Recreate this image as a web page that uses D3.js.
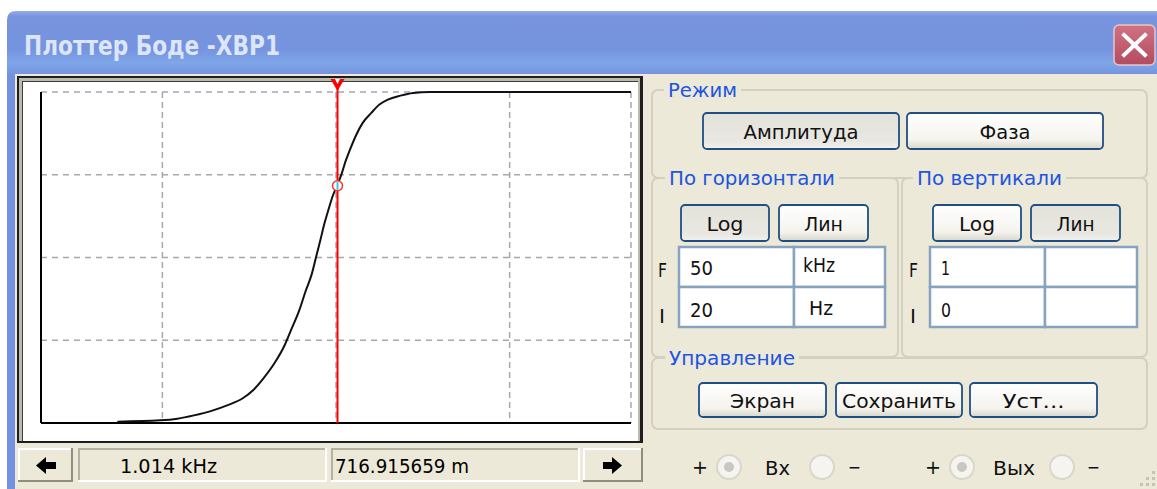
<!DOCTYPE html>
<html>
<head>
    <meta charset="utf-8">
    <title>Плоттер Боде</title>
    <script src="https://d3js.org/d3.v7.min.js"></script>
    <style>
        body { margin: 0; background: #ffffff; }
        svg { display: block; }
        text { font-family: "DejaVu Sans", Verdana, sans-serif; }
    </style>
</head>
<body>
    <svg id="win" width="1157" height="489"></svg>
    <script>
        // amplitude response (frequency in Hz, amplitude in V/V)
        const freqHz = [55, 97, 122, 152, 190, 238, 289, 333, 382, 440, 506, 550, 615, 668,
            727, 769, 813, 859, 909, 961, 1014, 1076, 1137, 1202, 1309, 1422, 1592, 1779,
            1990, 2351, 2780, 3478, 50000];
        const amplitude = [0.004, 0.008, 0.013, 0.023, 0.036, 0.054, 0.074, 0.099, 0.135, 0.179,
            0.235, 0.28, 0.341, 0.398, 0.452, 0.503, 0.553, 0.604, 0.648, 0.688, 0.717, 0.752,
            0.792, 0.825, 0.871, 0.906, 0.936, 0.962, 0.977, 0.989, 0.997, 1.0, 1.0];

        // axis settings (F / I fields)
        const freqMin = 20;        // I = 20 Hz
        const freqMax = 50000;     // F = 50 kHz
        const ampMin = 0;          // I = 0
        const ampMax = 1;          // F = 1
        const freqGrid = [100, 1000, 10000, 50000];
        const ampGrid = [0.25, 0.5, 0.75, 1];

        // cursor
        const cursorFreq = 1014;
        const cursorAmp = 0.716915659;
        const readouts = ["1.014 kHz", "716.915659 m"];

        const svg = d3.select("#win");
        const beige = "#ece9d8";
        const defs = svg.append("defs");

        // ---------- window chrome ----------
        const tg = defs.append("linearGradient").attr("id", "titleGrad").attr("x1", 0).attr("x2", 0).attr("y1", 0).attr("y2", 1);
        [[0, "#93aeea"], [0.08, "#7894df"], [0.6, "#7593de"], [0.82, "#7fa6e9"], [1, "#7694de"]]
            .forEach(s => tg.append("stop").attr("offset", s[0]).attr("stop-color", s[1]));

        svg.append("path")
            .attr("d", "M7,74 L7,20 Q7,11 16,11 L1157,11 L1157,74 Z")
            .attr("fill", "url(#titleGrad)");
        svg.append("rect").attr("x", 7).attr("y", 74).attr("width", 8).attr("height", 415).attr("fill", "#7391df");
        svg.append("rect").attr("x", 15).attr("y", 74).attr("width", 1142).attr("height", 415).attr("fill", beige);

        svg.append("text").attr("x", 24).attr("y", 55)
            .attr("font-family", "'Liberation Sans', Arial, sans-serif")
            .attr("font-weight", "bold").attr("font-size", 26)
            .attr("fill", "#dce6f7")
            .attr("textLength", 256).attr("lengthAdjust", "spacingAndGlyphs")
            .text("Плоттер Боде -XBP1");

        // close button
        const cg = defs.append("linearGradient").attr("id", "closeGrad").attr("x1", 0).attr("x2", 0).attr("y1", 0).attr("y2", 1);
        cg.append("stop").attr("offset", 0).attr("stop-color", "#cf7383");
        cg.append("stop").attr("offset", 1).attr("stop-color", "#b44b5e");
        svg.append("rect").attr("x", 1114).attr("y", 25).attr("width", 41).attr("height", 40).attr("rx", 5)
            .attr("fill", "url(#closeGrad)").attr("stroke", "#e9c3cb").attr("stroke-width", 1.5);
        svg.append("path").attr("d", "M1124,35 L1145,55 M1145,35 L1124,55")
            .attr("stroke", "#ffffff").attr("stroke-width", 4).attr("stroke-linecap", "square");

        // ---------- plot ----------
        svg.append("rect").attr("x", 17).attr("y", 76).attr("width", 626).attr("height", 367).attr("fill", "#1e1e1e");
        svg.append("rect").attr("x", 19).attr("y", 78).attr("width", 621).attr("height", 363).attr("fill", "#bcb9ad");
        svg.append("rect").attr("x", 22).attr("y", 81).attr("width", 616).attr("height", 360).attr("fill", "#3c3c3c");
        svg.append("rect").attr("x", 23).attr("y", 82).attr("width", 615).attr("height", 359).attr("fill", "#ffffff");

        const x = d3.scaleLog().domain([freqMin, freqMax]).range([41, 631]);
        const y = d3.scaleLinear().domain([ampMin, ampMax]).range([423, 92]);

        const plot = svg.append("g");
        plot.selectAll("line.vg").data(freqGrid).enter().append("line")
            .attr("x1", d => x(d)).attr("x2", d => x(d))
            .attr("y1", y(ampMax)).attr("y2", y(ampMin))
            .attr("stroke", "#a8a8a8").attr("stroke-width", 1.5).attr("stroke-dasharray", "6,4");
        plot.selectAll("line.hg").data(ampGrid).enter().append("line")
            .attr("x1", x(freqMin)).attr("x2", x(freqMax))
            .attr("y1", d => y(d)).attr("y2", d => y(d))
            .attr("stroke", "#a8a8a8").attr("stroke-width", 1.5).attr("stroke-dasharray", "6,5");

        // axes
        plot.append("line").attr("x1", x(freqMin)).attr("x2", x(freqMin)).attr("y1", y(ampMax)).attr("y2", y(ampMin))
            .attr("stroke", "#000").attr("stroke-width", 2);
        plot.append("line").attr("x1", x(freqMin)).attr("x2", x(freqMax)).attr("y1", y(ampMin)).attr("y2", y(ampMin))
            .attr("stroke", "#000").attr("stroke-width", 2);

        const pts = freqHz.map((f, i) => ({ f: f, a: amplitude[i] }));
        const line = d3.line().x(d => x(d.f)).y(d => y(d.a)).curve(d3.curveMonotoneX);
        plot.append("path").datum(pts).attr("d", line)
            .attr("fill", "none").attr("stroke", "#111").attr("stroke-width", 2);

        // cursor
        const cx = Math.round(x(cursorFreq)) + 0.5;
        plot.append("line").attr("x1", cx).attr("x2", cx).attr("y1", 84).attr("y2", y(ampMin))
            .attr("stroke", "#ff0000").attr("stroke-width", 2);
        plot.append("path").attr("d", `M${cx - 7},79 L${cx + 7},79 L${cx},91 Z`).attr("fill", "#ff0000");
        plot.append("path").attr("d", `M${cx - 2.5},79 L${cx + 2.5},79 L${cx},84 Z`).attr("fill", "#ffffff");
        plot.append("circle").attr("cx", cx).attr("cy", y(cursorAmp)).attr("r", 5)
            .attr("fill", "#ffffff").attr("stroke", "#ff3030").attr("stroke-width", 1.5);
        plot.append("line").attr("x1", cx).attr("x2", cx).attr("y1", y(cursorAmp) - 4).attr("y2", y(cursorAmp) + 4)
            .attr("stroke", "#2fd0e0").attr("stroke-width", 2);

        // ---------- bottom readout bar ----------
        function raised(x0, y0, w, h) {
            svg.append("rect").attr("x", x0).attr("y", y0).attr("width", w).attr("height", h).attr("fill", beige);
            svg.append("path").attr("d", `M${x0 + 1},${y0 + h} L${x0 + 1},${y0 + 1} L${x0 + w},${y0 + 1}`)
                .attr("fill", "none").attr("stroke", "#ffffff").attr("stroke-width", 2);
            svg.append("path").attr("d", `M${x0},${y0 + h - 1} L${x0 + w - 1},${y0 + h - 1} L${x0 + w - 1},${y0}`)
                .attr("fill", "none").attr("stroke", "#8f8d80").attr("stroke-width", 2);
        }
        function sunken(x0, y0, w, h) {
            svg.append("rect").attr("x", x0).attr("y", y0).attr("width", w).attr("height", h).attr("fill", beige);
            svg.append("path").attr("d", `M${x0 + 1},${y0 + h} L${x0 + 1},${y0 + 1} L${x0 + w},${y0 + 1}`)
                .attr("fill", "none").attr("stroke", "#b5b2a3").attr("stroke-width", 2);
            svg.append("path").attr("d", `M${x0},${y0 + h - 1} L${x0 + w - 1},${y0 + h - 1} L${x0 + w - 1},${y0}`)
                .attr("fill", "none").attr("stroke", "#ffffff").attr("stroke-width", 2);
        }
        raised(18, 448, 55, 34);
        sunken(78, 448, 249, 34);
        sunken(331, 448, 249, 34);
        raised(583, 448, 60, 34);
        svg.append("path").attr("d", "M36,465.5 L46,457 L46,462 L56,462 L56,469 L46,469 L46,474 Z").attr("fill", "#000");
        svg.append("path").attr("d", "M622,465.5 L612,457 L612,462 L603,462 L603,469 L612,469 L612,474 Z").attr("fill", "#000");

        svg.append("text").attr("x", 120).attr("y", 473).attr("font-size", 20)
            .attr("textLength", 97).attr("lengthAdjust", "spacingAndGlyphs").text(readouts[0]);
        svg.append("text").attr("x", 335).attr("y", 473).attr("font-size", 20)
            .attr("textLength", 134).attr("lengthAdjust", "spacingAndGlyphs").text(readouts[1]);

        // ---------- control panel ----------
        const blue = "#1d55e0";
        function groupBox(x0, y0, x1, y1) {
            svg.append("rect").attr("x", x0).attr("y", y0).attr("width", x1 - x0).attr("height", y1 - y0).attr("rx", 6)
                .attr("fill", "none").attr("stroke", "#d3d0bf").attr("stroke-width", 2);
        }
        function groupLabel(lx, base, w, label) {
            svg.append("rect").attr("x", lx - 4).attr("y", base - 17).attr("width", w + 8).attr("height", 20).attr("fill", beige);
            svg.append("text").attr("x", lx).attr("y", base).attr("font-size", 20).attr("fill", blue)
                .attr("textLength", w).attr("lengthAdjust", "spacingAndGlyphs").text(label);
        }
        groupBox(652, 90, 1147, 178);
        groupBox(652, 178, 898, 357);
        groupBox(902, 178, 1147, 357);
        groupBox(652, 358, 1147, 429);
        groupLabel(668, 97, 69, "Режим");
        groupLabel(669, 185, 166, "По горизонтали");
        groupLabel(917, 185, 145, "По вертикали");
        groupLabel(669, 365, 126, "Управление");

        const bg = defs.append("linearGradient").attr("id", "btnGrad").attr("x1", 0).attr("x2", 0).attr("y1", 0).attr("y2", 1);
        [[0, "#ffffff"], [0.75, "#f4f3ee"], [1, "#d9d6c8"]].forEach(s => bg.append("stop").attr("offset", s[0]).attr("stop-color", s[1]));
        const pg = defs.append("linearGradient").attr("id", "btnPressed").attr("x1", 0).attr("x2", 0).attr("y1", 0).attr("y2", 1);
        [[0, "#e3e2da"], [0.8, "#e8e7e1"], [1, "#f2f1ec"]].forEach(s => pg.append("stop").attr("offset", s[0]).attr("stop-color", s[1]));

        function button(x0, x1, y0, y1, label, w, pressed) {
            svg.append("rect").attr("x", x0).attr("y", y0).attr("width", x1 - x0).attr("height", y1 - y0).attr("rx", 4)
                .attr("fill", pressed ? "url(#btnPressed)" : "url(#btnGrad)")
                .attr("stroke", "#1f4f84").attr("stroke-width", 1.8);
            svg.append("text").attr("x", (x0 + x1) / 2).attr("y", (y0 + y1) / 2 + 7.5)
                .attr("text-anchor", "middle").attr("font-size", 20).attr("fill", "#111")
                .attr("textLength", w).attr("lengthAdjust", "spacingAndGlyphs").text(label);
        }
        button(703, 899, 113, 149, "Амплитуда", 115, true);
        button(907, 1103, 113, 149, "Фаза", 51, false);
        button(681, 769, 205, 241, "Log", 37, true);
        button(779, 868, 205, 241, "Лин", 39, false);
        button(933, 1021, 205, 241, "Log", 36, false);
        button(1031, 1120, 205, 241, "Лин", 38, true);
        button(699, 826, 383, 417, "Экран", 65, false);
        button(836, 962, 383, 417, "Сохранить", 114, false);
        button(970, 1097, 383, 417, "Уст...", 62, false);

        // F / I input fields
        function cell(x0, x1, y0, y1) {
            svg.append("rect").attr("x", x0).attr("y", y0).attr("width", x1 - x0).attr("height", y1 - y0)
                .attr("fill", "#ffffff").attr("stroke", "#87a3c0").attr("stroke-width", 2.5);
        }
        const hCells = { x: [679, 794, 885], y: [247, 287, 327] };
        const vCells = { x: [930, 1045, 1137], y: [247, 287, 327] };
        [hCells, vCells].forEach(c => {
            for (let r = 0; r < 2; r++) for (let k = 0; k < 2; k++) cell(c.x[k], c.x[k + 1], c.y[r], c.y[r + 1]);
        });
        function txt(tx, ty, s, w) {
            const t = svg.append("text").attr("x", tx).attr("y", ty).attr("font-size", 20).attr("fill", "#111").text(s);
            if (w) t.attr("textLength", w).attr("lengthAdjust", "spacingAndGlyphs");
        }
        txt(658, 277, "F", 9); txt(659, 323, "I", 6);
        txt(909, 277, "F", 9); txt(910, 323, "I", 6);
        txt(690, 275, "50", 23); txt(803, 272, "kHz", 32);
        txt(690, 317, "20", 23); txt(809, 315, "Hz", 24);
        txt(941, 275, "1", 9); txt(941, 317, "0", 10);

        // terminals row
        function radio(rx, on) {
            svg.append("circle").attr("cx", rx).attr("cy", 467).attr("r", 12)
                .attr("fill", "#f5f4ef").attr("stroke", "#d9d7cb").attr("stroke-width", 2);
            if (on) svg.append("circle").attr("cx", rx).attr("cy", 467).attr("r", 5).attr("fill", "#c9c8c0");
        }
        radio(729, true); radio(822, false); radio(962, true); radio(1062, false);
        txt(692, 474, "+", 16); txt(765, 475, "Вх", 25); txt(848, 474, "−", 13);
        txt(925, 474, "+", 16); txt(993, 475, "Вых", 42); txt(1087, 474, "−", 13);

        // size grip
        [[1152, 471], [1146, 477], [1152, 477], [1140, 483], [1146, 483], [1152, 483]].forEach(p => {
            svg.append("rect").attr("x", p[0]).attr("y", p[1]).attr("width", 3).attr("height", 3).attr("fill", "#c6c3b5");
        });
    </script>
</body>
</html>
